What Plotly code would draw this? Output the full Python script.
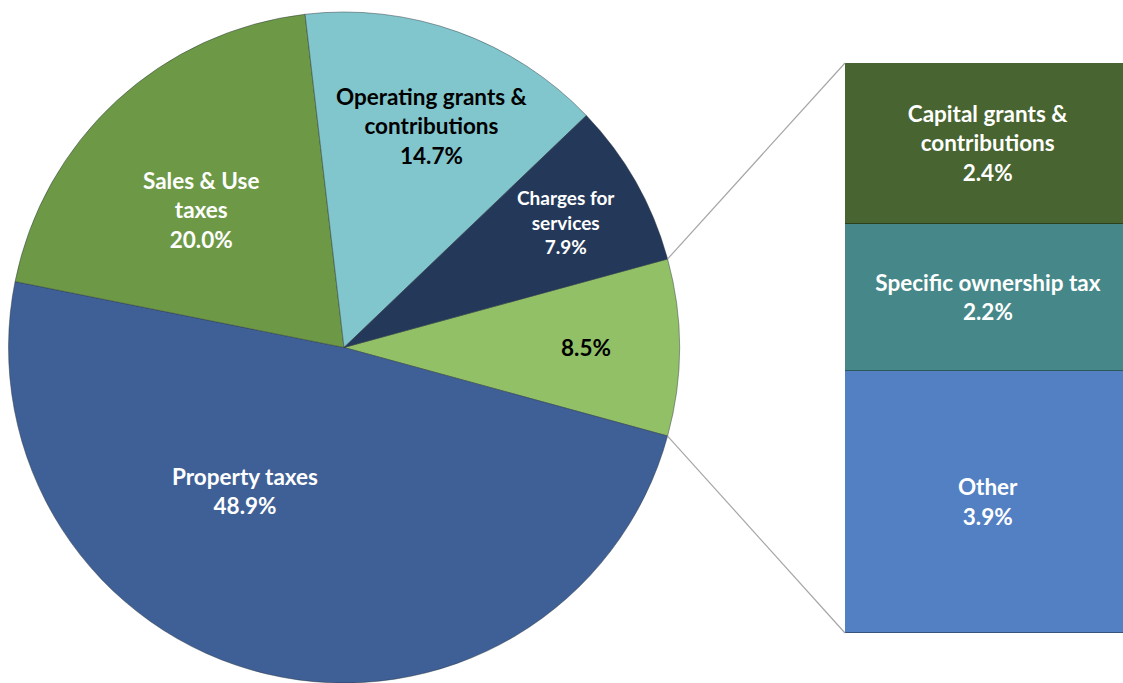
import math
import plotly.graph_objects as go

W, H = 1123, 683

# Revenue sources shown in the pie (clockwise, starting with the combined slice at 3 o'clock)
pie_names = ["Other revenue", "Property taxes", "Sales & Use taxes",
             "Operating grants & contributions", "Charges for services"]
pie_label_text = ["", "Property taxes", "Sales & Use<br>taxes",
                  "Operating grants &<br>contributions", "Charges for<br>services"]
pie_values = [8.5, 48.9, 20.0, 14.7, 7.9]

# Breakdown of the combined slice (bottom to top of the stacked bar)
bar_names = ["Other", "Specific ownership tax", "Capital grants & contributions"]
bar_label_text = ["Other", "Specific ownership tax", "Capital grants &<br>contributions"]
bar_values = [3.9, 2.2, 2.4]

# Styling
pie_colors = ["#92C067", "#3F6096", "#6D9946", "#82C6CD", "#24395A"]
pie_text_colors = ["black", "white", "white", "black", "white"]
pie_text_sizes = [22.5, 22.5, 22.5, 22.5, 19]
label_radius = [0.72, 0.52, 0.59, 0.71, 0.76]   # fraction of pie radius
label_turn = [0.0, 21.4, -3.4, 2.0, 0.0]        # degrees, clockwise
bar_colors = ["#5380C2", "#468889", "#486430"]
FONT = "Lato"

# Pie placement in pixels
pie_left, pie_right, pie_top = 8, 680, 12
pie_dom_x = [pie_left / W, pie_right / W]
pie_dom_y = [0.0, 1 - pie_top / H]
cx = (pie_left + pie_right) / 2
R = min(pie_right - pie_left, H - pie_top) / 2
cy = pie_top + R

# Bar placement
bar_x0_px = 845
bar_top_px, bar_bot_px = 63, 633
bar_dom_x = [bar_x0_px / W, 1.0]
bar_dom_y = [1 - bar_bot_px / H, 1 - bar_top_px / H]

total = sum(pie_values)
half_first = 180.0 * pie_values[0] / total
rotation = 90.0 - half_first   # combined slice centred on 3 o'clock

fig = go.Figure()

fig.add_trace(go.Pie(
    values=pie_values,
    labels=pie_names,
    sort=False,
    direction="clockwise",
    rotation=rotation,
    textinfo="none",
    hoverinfo="label+percent",
    marker=dict(colors=pie_colors, line=dict(color="rgba(40,50,60,0.45)", width=1)),
    domain=dict(x=pie_dom_x, y=pie_dom_y),
    showlegend=False,
))


def clock_to_paper(theta_deg, r_px):
    t = math.radians(theta_deg)
    px = cx + r_px * math.sin(t)
    py = cy - r_px * math.cos(t)
    return px / W, 1 - py / H


# Pie labels placed along each slice's mid-angle
cum = 0.0
for name_txt, v, col, size, rf, turn in zip(pie_label_text, pie_values, pie_text_colors,
                                            pie_text_sizes, label_radius, label_turn):
    mid = rotation + 360.0 * (cum + v / 2) / total + turn
    cum += v
    xp, yp = clock_to_paper(mid, rf * R)
    txt = (name_txt + "<br>" if name_txt else "") + f"{v:.1f}%"
    fig.add_annotation(
        x=xp, y=yp, xref="paper", yref="paper", text=txt, showarrow=False,
        xanchor="center", yanchor="middle",
        font=dict(family=FONT, size=size, color=col, weight="bold"),
    )

# Stacked bar with the breakdown
for name, txt, v, col in zip(bar_names, bar_label_text, bar_values, bar_colors):
    fig.add_trace(go.Bar(
        x=[0], y=[v], width=1, name=name,
        marker=dict(color=col, line=dict(color="rgba(0,0,0,0.35)", width=1)),
        text=[f"{txt}<br>{v:.1f}%"], texttemplate="%{text}",
        textposition="inside", insidetextanchor="middle", textangle=0,
        insidetextfont=dict(family=FONT, size=22.5, color="white", weight="bold"),
        xaxis="x", yaxis="y", showlegend=False, hoverinfo="name+y",
    ))

# Connector lines from the combined slice edges to the bar corners
edge_hi = clock_to_paper(rotation, R)
edge_lo = clock_to_paper(rotation + 2 * half_first, R)
for (ex, ey), by in ((edge_hi, bar_dom_y[1]), (edge_lo, bar_dom_y[0])):
    fig.add_shape(type="line", xref="paper", yref="paper",
                  x0=ex, y0=ey, x1=bar_dom_x[0], y1=by,
                  line=dict(color="#A6A6A6", width=1.2))

fig.update_layout(
    width=W, height=H,
    margin=dict(l=0, r=0, t=0, b=0),
    paper_bgcolor="white", plot_bgcolor="white",
    barmode="stack", bargap=0,
    uniformtext=dict(mode=False),
    xaxis=dict(domain=bar_dom_x, range=[-0.5, 0.47], visible=False, fixedrange=True),
    yaxis=dict(domain=bar_dom_y, range=[0, sum(bar_values)], visible=False, fixedrange=True),
)

fig.write_html("out.html")
